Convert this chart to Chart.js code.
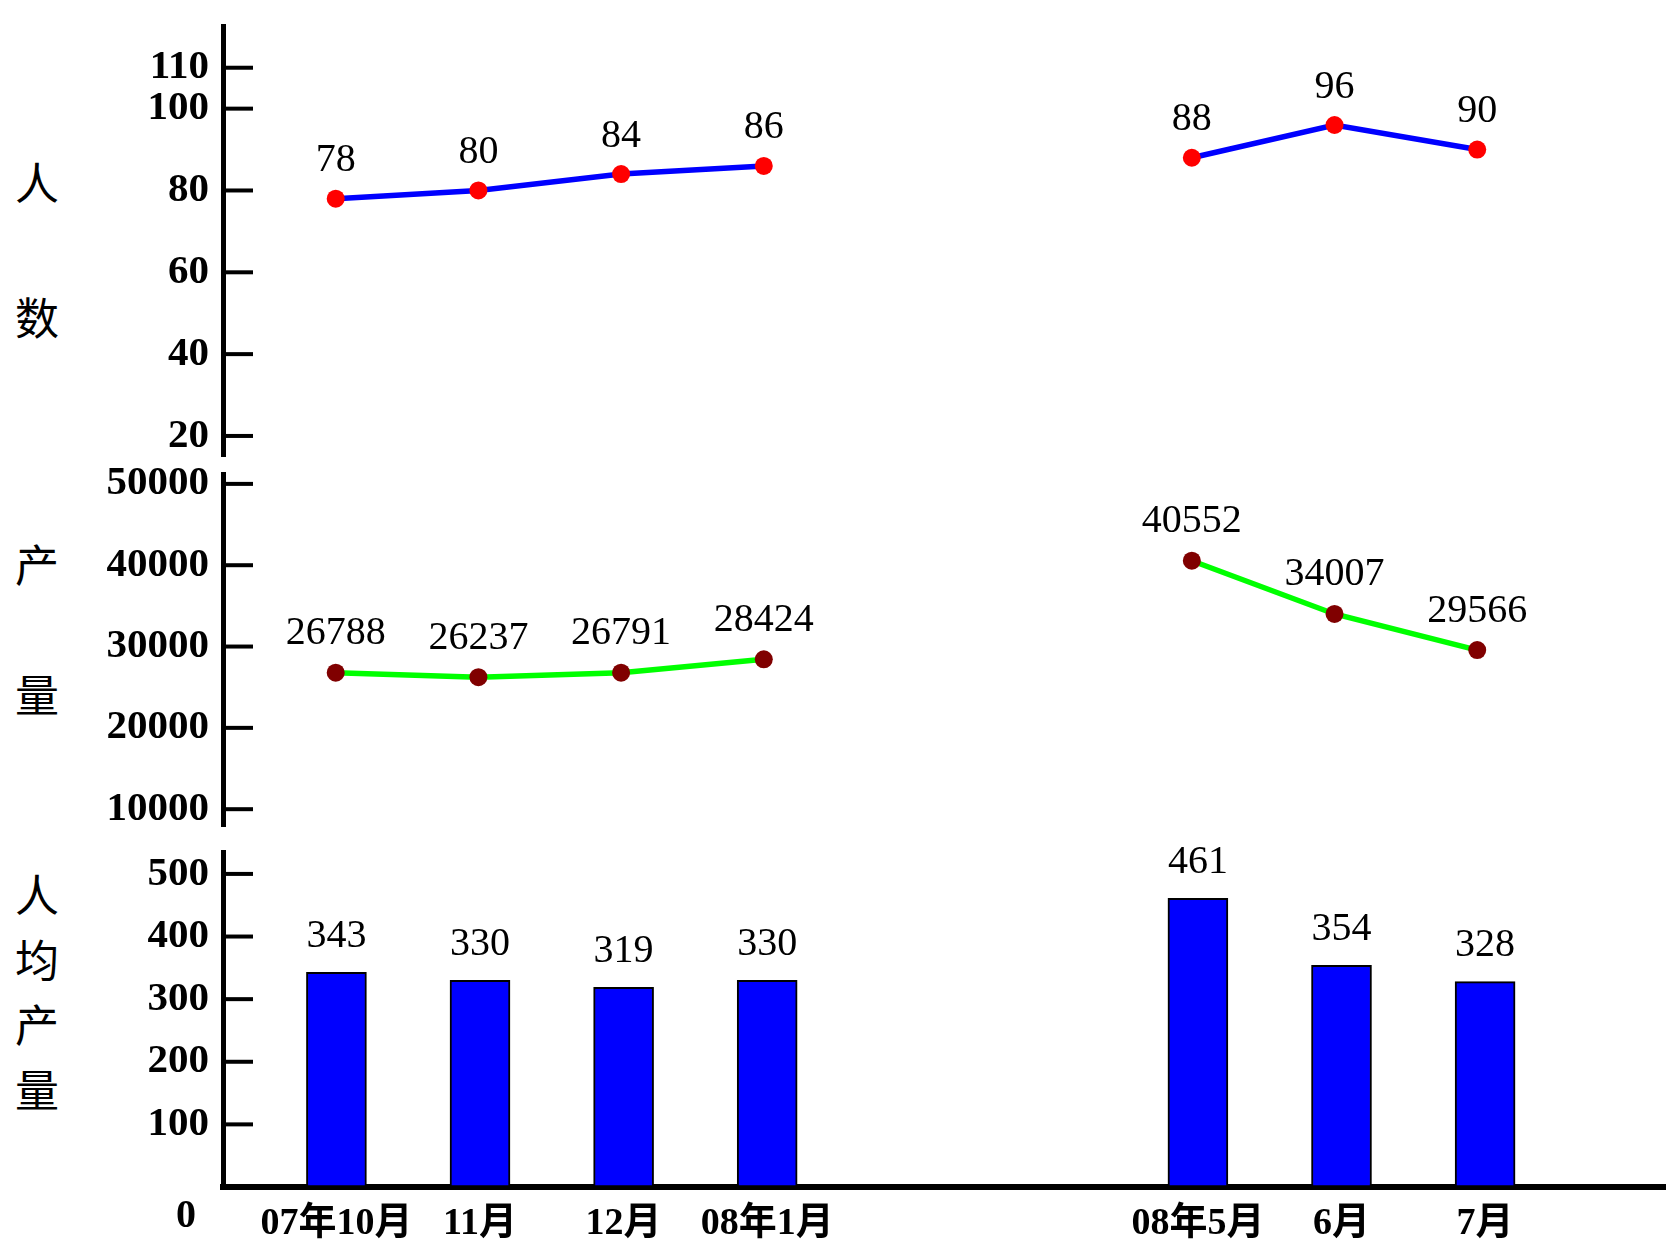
<!DOCTYPE html>
<html>
<head>
<meta charset="utf-8">
<script src="https://cdn.jsdelivr.net/npm/chart.js@4.4.1/dist/chart.umd.min.js"></script>
<style>
  body { margin: 0; background: #fff; }
  #wrap { position: relative; width: 1666px; height: 1248px; overflow: hidden; }
  canvas { position: absolute; left: 0; }
  .ytitle { position: absolute; left: 14px; width: 46px; text-align: center;
            font-family: "Noto Sans CJK SC"; font-size: 44px; color: #000; }
</style>
</head>
<body>
<div id="wrap">
  <div class="ytitle" style="top:114px; line-height:135px">人<br>数</div>
  <div class="ytitle" style="top:498px; line-height:130px">产<br>量</div>
  <div class="ytitle" style="top:861px; line-height:65px">人<br>均<br>产<br>量</div>
  <canvas id="people" width="1666" height="465" style="top:0"></canvas>
  <canvas id="output" width="1666" height="370" style="top:465px"></canvas>
  <canvas id="perCapita" width="1666" height="413" style="top:835px"></canvas>
</div>
<script>
// Months (two empty slots for the missing Feb-Apr gap)
const months = ['07年10月', '11月', '12月', '08年1月', '', '', '08年5月', '6月', '7月'];
const headcount = [78, 80, 84, 86, null, null, 88, 96, 90];
const output = [26788, 26237, 26791, 28424, null, null, 40552, 34007, 29566];
const perCapita = [343, 330, 319, 330, null, null, 461, 354, 328];

// Tick labels
const headcountTicks = [20, 40, 60, 80, 100, 110];
const outputTicks = [10000, 20000, 30000, 40000, 50000];
const perCapitaTicks = [100, 200, 300, 400, 500];

Chart.defaults.font.family = '"Liberation Serif", "Noto Sans CJK SC", serif';
Chart.defaults.color = '#000';

const X_MIN = -0.79, X_MAX = 9.26;

function toPoints(arr) {
    return arr.map((v, i) => ({ x: i, y: v }));
}

function xScale(show) {
    return {
        type: 'linear',
        min: X_MIN,
        max: X_MAX,
        offset: false,
        display: show,
        afterBuildTicks: s => { s.ticks = months.map((m, i) => ({ value: i })); },
        afterFit: s => {
            if (show) s.height = 61;
            s.paddingLeft = 0;
            s.paddingRight = 0;
        },
        grid: { drawOnChartArea: false, drawTicks: false, offset: false },
        border: { color: '#000', width: 6 },
        ticks: {
            autoSkip: false, maxRotation: 0, padding: 14,
            font: { size: 38, weight: 'bold' },
            callback: (v, i) => months[i]
        }
    };
}

function yScale(min, max, ticks) {
    return {
        min: min,
        max: max,
        afterBuildTicks: s => { s.ticks = ticks.map(v => ({ value: v })); },
        afterFit: s => { s.width = 223; s.paddingTop = 0; s.paddingBottom = 0; },
        grid: { drawOnChartArea: false, drawTicks: false },
        border: { color: '#000', width: 5 },
        ticks: { padding: 14, font: { size: 41, weight: 'bold' }, callback: v => String(v) }
    };
}

// Tick marks pointing into the plot
const innerTicks = {
    id: 'innerTicks',
    afterDraw(chart) {
        const { ctx, chartArea, scales: { y } } = chart;
        ctx.save();
        ctx.strokeStyle = '#000';
        ctx.lineWidth = 4;
        y.ticks.forEach(t => {
            const py = y.getPixelForValue(t.value);
            ctx.beginPath();
            ctx.moveTo(chartArea.left, py);
            ctx.lineTo(chartArea.left + 30, py);
            ctx.stroke();
        });
        ctx.restore();
    }
};

// Value labels above points / bars
const valueLabels = {
    id: 'valueLabels',
    afterDatasetsDraw(chart, args, opts) {
        const { ctx } = chart;
        ctx.save();
        ctx.fillStyle = '#000';
        ctx.font = '40px "Liberation Serif"';
        ctx.textAlign = 'center';
        ctx.textBaseline = 'middle';
        chart.data.datasets.forEach((ds, di) => {
            chart.getDatasetMeta(di).data.forEach((el, i) => {
                const v = ds.data[i].y;
                if (v == null) return;
                ctx.fillText(String(v), el.x, el.y - opts.offset);
            });
        });
        ctx.restore();
    }
};

// "0" sits below the x axis line
const zeroLabel = {
    id: 'zeroLabel',
    afterDraw(chart) {
        const { ctx, chartArea, scales: { y } } = chart;
        ctx.save();
        ctx.fillStyle = '#000';
        ctx.font = 'bold 40px "Liberation Serif"';
        ctx.textAlign = 'center';
        ctx.textBaseline = 'middle';
        ctx.fillText('0', chartArea.left - 37, y.getPixelForValue(0) + 30);
        ctx.restore();
    }
};

function baseOptions(padTop, padBottom, showX, yOpts, labelOffset) {
    return {
        responsive: false,
        animation: false,
        events: [],
        layout: { padding: { top: padTop, bottom: padBottom, left: 0, right: 0 } },
        plugins: {
            legend: { display: false },
            tooltip: { enabled: false },
            valueLabels: { offset: labelOffset }
        },
        scales: { x: xScale(showX), y: yOpts }
    };
}

// Headcount line
new Chart(document.getElementById('people'), {
    type: 'line',
    data: {
        datasets: [{
            data: toPoints(headcount),
            borderColor: '#0000FF',
            borderWidth: 5.5,
            pointRadius: 9,
            pointBorderWidth: 0,
            pointBackgroundColor: '#FF0000',
            tension: 0
        }]
    },
    options: baseOptions(26, 8, false, yScale(15.1, 120.2, headcountTicks), 38),
    plugins: [innerTicks, valueLabels]
});

// Output line
new Chart(document.getElementById('output'), {
    type: 'line',
    data: {
        datasets: [{
            data: toPoints(output),
            borderColor: '#00FF00',
            borderWidth: 5.5,
            pointRadius: 9,
            pointBorderWidth: 0,
            pointBackgroundColor: '#800000',
            tension: 0
        }]
    },
    options: baseOptions(7, 7, false, yScale(7933, 51216, outputTicks), 39),
    plugins: [innerTicks, valueLabels]
});

// Output per person bars
new Chart(document.getElementById('perCapita'), {
    type: 'bar',
    data: {
        datasets: [{
            data: toPoints(perCapita),
            backgroundColor: '#0000FF',
            borderColor: '#000',
            borderWidth: 2,
            borderSkipped: false,
            barThickness: 60
        }]
    },
    options: baseOptions(17, 0, true, yScale(0, 535, perCapitaTicks), 36),
    plugins: [innerTicks, valueLabels, zeroLabel]
});
</script>
</body>
</html>
